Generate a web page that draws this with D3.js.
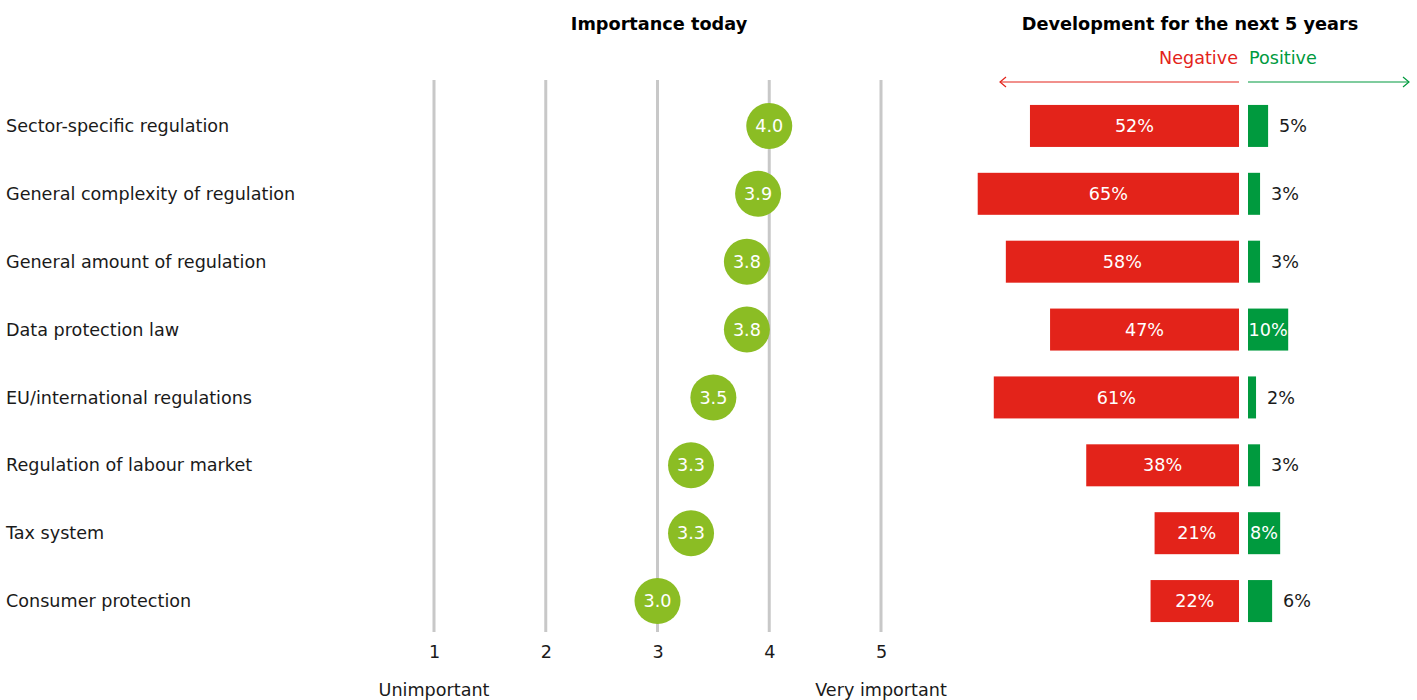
<!DOCTYPE html>
<html>
<head>
<meta charset="utf-8">
<script src="https://cdn.jsdelivr.net/npm/d3@7/dist/d3.min.js"></script>
<style>
  html, body { margin: 0; padding: 0; background: #fff; }
  svg { display: block; font-family: "DejaVu Sans", Verdana, sans-serif; }
</style>
</head>
<body>
<svg id="chart" width="1417" height="700"></svg>
<script>
// Survey factors
const categories = [
  "Sector-specific regulation",
  "General complexity of regulation",
  "General amount of regulation",
  "Data protection law",
  "EU/international regulations",
  "Regulation of labour market",
  "Tax system",
  "Consumer protection"
];
// Mean importance today (1 = unimportant, 5 = very important)
const importance = [4.0, 3.9, 3.8, 3.8, 3.5, 3.3, 3.3, 3.0];
// Expected development over the next 5 years, share of respondents (%)
const negative = [52, 65, 58, 47, 61, 38, 21, 22];
const positive = [5, 3, 3, 10, 2, 3, 8, 6];
const importanceTicks = [1, 2, 3, 4, 5];
const tickLabels = ["1", "2", "3", "4", "5"];

const svg = d3.select("#chart");
const FS = 17.6, FSB = 17.7;
const red = "#e3231a", green = "#009a3e", dot = "#8bbd24", grid = "#c8c8c8";

const y = d3.scaleBand().domain(categories).range([92, 635]).paddingInner(0.38).paddingOuter(0.19);
const yc = d => y(d) + y.bandwidth() / 2;

// Row labels
svg.append("g").selectAll("text").data(categories).join("text")
  .attr("x", 6).attr("y", d => yc(d)).attr("dy", "0.35em")
  .attr("font-size", FS).attr("fill", "#1a1a1a").text(d => d);

// Importance panel
const x = d3.scaleLinear().domain([1, 5]).range([434, 881]);
svg.append("text").attr("x", 659).attr("y", 30).attr("text-anchor", "middle")
  .attr("font-size", FSB).attr("font-weight", "bold").text("Importance today");

svg.append("g").selectAll("line").data(importanceTicks).join("line")
  .attr("x1", d => x(d)).attr("x2", d => x(d)).attr("y1", 80).attr("y2", 632)
  .attr("stroke", grid).attr("stroke-width", 3);

const xAxis = d3.axisBottom(x).tickValues(importanceTicks).tickFormat((d, i) => tickLabels[i]).tickSize(0).tickPadding(0);
const ax = svg.append("g").attr("transform", "translate(0,642)").call(xAxis);
ax.select(".domain").remove();
ax.selectAll("text").attr("font-size", FS).attr("fill", "#1a1a1a")
  .attr("font-family", "DejaVu Sans, Verdana, sans-serif").attr("dy", "0.9em");

svg.append("text").attr("x", x(1)).attr("y", 696).attr("text-anchor", "middle")
  .attr("font-size", FS).attr("fill", "#1a1a1a").text("Unimportant");
svg.append("text").attr("x", x(5)).attr("y", 696).attr("text-anchor", "middle")
  .attr("font-size", FS).attr("fill", "#1a1a1a").text("Very important");

const dots = svg.append("g").selectAll("g").data(categories).join("g")
  .attr("transform", (d, i) => `translate(${x(importance[i])},${yc(d)})`);
dots.append("circle").attr("r", 23).attr("fill", dot);
dots.append("text").attr("text-anchor", "middle").attr("dy", "0.35em")
  .attr("font-size", FS).attr("fill", "#fff").text((d, i) => importance[i].toFixed(1));

// Development panel
const zeroNeg = 1239, zeroPos = 1248;
const w = d3.scaleLinear().domain([0, 100]).range([0, 402]);

svg.append("text").attr("x", 1190).attr("y", 30).attr("text-anchor", "middle")
  .attr("font-size", FSB).attr("font-weight", "bold").text("Development for the next 5 years");
svg.append("text").attr("x", zeroNeg - 1).attr("y", 64).attr("text-anchor", "end")
  .attr("font-size", FS).attr("fill", red).text("Negative");
svg.append("text").attr("x", zeroPos + 1).attr("y", 64)
  .attr("font-size", FS).attr("fill", green).text("Positive");

// direction arrows
const ay = 82;
svg.append("line").attr("x1", 1000).attr("x2", zeroNeg).attr("y1", ay).attr("y2", ay).attr("stroke", red).attr("stroke-width", 1.2);
svg.append("path").attr("d", `M1006,${ay - 5}L1000,${ay}L1006,${ay + 5}`).attr("fill", "none").attr("stroke", red).attr("stroke-width", 1.2);
svg.append("line").attr("x1", zeroPos).attr("x2", 1409).attr("y1", ay).attr("y2", ay).attr("stroke", green).attr("stroke-width", 1.2);
svg.append("path").attr("d", `M1403,${ay - 5}L1409,${ay}L1403,${ay + 5}`).attr("fill", "none").attr("stroke", green).attr("stroke-width", 1.2);

const bh = 42;
const neg = svg.append("g").selectAll("g").data(categories).join("g");
neg.append("rect").attr("x", (d, i) => zeroNeg - w(negative[i])).attr("width", (d, i) => w(negative[i]))
  .attr("y", d => yc(d) - bh / 2).attr("height", bh).attr("fill", red);
neg.append("text").attr("x", (d, i) => zeroNeg - w(negative[i]) / 2).attr("y", d => yc(d)).attr("dy", "0.35em")
  .attr("text-anchor", "middle").attr("font-size", FS).attr("fill", "#fff").text((d, i) => negative[i] + "%");

const pos = svg.append("g").selectAll("g").data(categories).join("g");
pos.append("rect").attr("x", zeroPos).attr("width", (d, i) => w(positive[i]))
  .attr("y", d => yc(d) - bh / 2).attr("height", bh).attr("fill", green);
pos.append("text")
  .attr("x", (d, i) => positive[i] >= 8 ? zeroPos + w(positive[i]) / 2 : zeroPos + w(positive[i]) + 11)
  .attr("y", d => yc(d)).attr("dy", "0.35em")
  .attr("text-anchor", (d, i) => positive[i] >= 8 ? "middle" : "start")
  .attr("font-size", FS).attr("fill", (d, i) => positive[i] >= 8 ? "#fff" : "#1a1a1a")
  .text((d, i) => positive[i] + "%");
</script>
</body>
</html>
